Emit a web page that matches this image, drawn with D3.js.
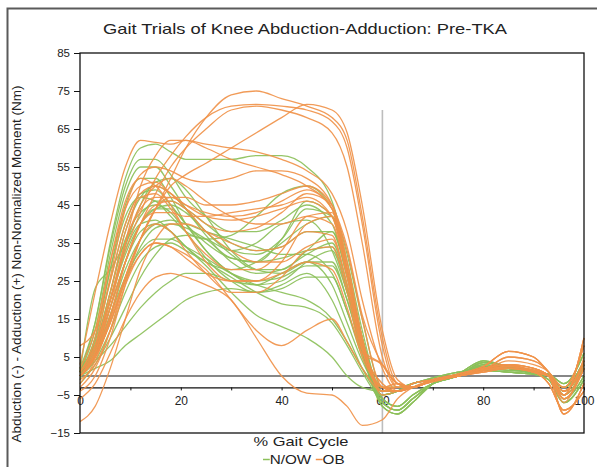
<!DOCTYPE html>
<html>
<head>
<meta charset="utf-8">
<script src="https://cdn.jsdelivr.net/npm/d3@7"></script>
<style>
  html, body { margin: 0; padding: 0; background: #fff; }
  svg { display: block; font-family: "Liberation Sans", Arial, sans-serif; }
</style>
</head>
<body>
<svg id="chart" width="597" height="467"></svg>
<script>
// Percent of gait cycle at which each trial is sampled
const pctGrid = [0,3,6,9,12,15,18,21,25,30,35,40,45,50,53,56,60,63,66,70,75,80,85,90,93,96,100];

const yTicks = [-15,-5,5,15,25,35,45,55,65,75,85];
const xTicks = [0,10,20,30,40,50,60,70,80,90,100];
const xLabelEvery = 20;

// Normal / overweight trials: knee ab-adduction moment (Nm)
const nowTrials = [
  [1,14,35,52,60,61,59,57,57,57,58,58,55,46,32,15,-3,-3,-2,-0.5,1,2,1.5,1,0.5,-2,6],
  [1,12,32,48,55,55,50,44,37,30,27,28,32,35,24,8,-7,-9,-6,-2,0,3.5,2.5,1,0,-5,2],
  [-1,10,28,45,52,52,47,40,33,27,24,25,30,33,22,7,-6,-8,-5,-2,0,3,2,0.5,-1,-7,-1],
  [0,8,22,38,47,50,48,44,38,32,28,28,33,38,27,10,-5,-4,-2,-1,0.5,2.5,2,1,0,-3,4],
  [2,8,20,32,40,44,45,43,38,33,32,36,44,42,28,10,-4,-4,-2,-1,0,1.5,1,0.5,0,-4,3],
  [1,23,28,35,42,46,46,44,40,35,33,34,38,38,26,9,-8,-10,-7,-2,0.5,4,2.5,1.5,0,-6,0],
  [0,5,14,25,34,39,40,39,36,31,30,36,46,42,28,10,-5,-4,-2,-1,0.5,2.5,2,1,0,-3,4],
  [-2,3,10,18,26,32,36,37,36,33,35,40,41,33,22,8,-7,-9,-6,-2,0,3.5,2.5,1,0,-5,2],
  [1,4,8,13,18,22,25,27,27,25,24,27,30,24,14,4,-4,-4,-2,-1,0,1.5,1,0.5,0,-4,3],
  [0,2,4,8,11,14,17,20,22,23,22,24,27,20,11,2,-6,-8,-5,-2,0,3,2,0.5,-1,-7,-1],
  [0,6,18,30,40,44,44,40,33,27,24,22,20,15,9,2,-3,-3,-2,-0.5,1,2,1.5,1,0.5,-2,6],
  [1,7,20,34,45,51,52,49,42,33,28,27,30,30,20,6,-8,-10,-7,-2,0.5,4,2.5,1.5,0,-6,0],
  [0,9,25,40,48,49,45,40,35,31,30,31,33,34,23,8,-5,-4,-2,-1,0.5,2.5,2,1,0,-3,4],
  [0,6,18,30,38,40,38,34,29,22,16,13,10,5,0,-3,-4,-4,-2,-1,0,1.5,1,0.5,0,-4,3],
  [0,4,12,22,30,34,35,33,30,26,22,19,18,14,8,1,-7,-9,-6,-2,0,3.5,2.5,1,0,-5,2],
  [1,10,28,42,47,46,42,38,36,37,42,48,50,44,28,10,-3,-3,-2,-0.5,1,2,1.5,1,0.5,-2,6],
  [0,7,20,33,40,41,38,34,30,28,30,35,40,42,30,12,-6,-8,-5,-2,0,3,2,0.5,-1,-7,-1],
  [0,5,16,28,36,40,41,40,38,36,34,32,32,27,17,5,-5,-4,-2,-1,0.5,2.5,2,1,0,-3,4],
  [1,8,22,36,43,45,43,38,31,25,22,23,26,26,17,6,-8,-10,-7,-2,0.5,4,2.5,1.5,0,-6,0],
  [0,6,16,26,33,36,36,34,31,27,25,26,29,29,20,7,-4,-4,-2,-1,0,1.5,1,0.5,0,-4,3],
  [2,14,34,50,57,57,53,47,42,38,38,41,45,40,26,9,-7,-9,-6,-2,0,3.5,2.5,1,0,-5,2]
];

// Obese trials: knee ab-adduction moment (Nm)
const obTrials = [
  [0,5,14,26,36,44,52,60,68,74,75,73,71,68,62,42,10,-2,-3,-1,0,2,3,1,0,-4,3],
  [1,8,20,33,43,52,58,63,68,71,71.5,71,70,67,60,40,8,-3,-3,-1,0,1.5,5,4,1,-6,2],
  [0,6,18,30,40,48,55,60,65,70,71,70,68,64,55,35,5,-3,-3,-1,0.5,2.5,6.5,5,1,-3,8],
  [0,5,15,26,36,44,50,53,56,60,64,68,71.5,70,64,45,12,-1,-3,-1,0,2,3,2,0,-10,-2],
  [3,22,40,55,62,61.5,61,62,61,60,59,57,54,48,38,20,2,-4,-3,-1.5,0,1,2,1,-2,-9,-4],
  [0,5,18,35,50,58,62,62,60,57,55,53,50,44,33,15,-3,-4,-2,-1,0,1.5,2.5,1.5,0,-5,10],
  [1,8,26,44,53,55,54,52,51,52,54,54,52,45,34,16,3,-2,-3,-1,0,2,3,1,0,-4,4],
  [0,6,20,35,44,47,47,45,43,42,43,46,49,44,28,8,-3,-3,-3,-1,0,1.5,4,3,1,-6,2],
  [-2,4,15,30,40,45,46,44,40,38,39,43,48,45,30,10,-4,-4,-3,-1,0.5,2.5,6.5,5,1,-3,8],
  [0,5,16,30,40,43,43,42,42,43,44,45,47,42,27,8,-2,-4,-3,-1.5,0,1,2,1,-2,-9,-4],
  [1,10,30,46,52,50,45,38,32,28,28,33,42,43,28,9,-3,-2,-3,-1,0,2,3,2,0,-10,-2],
  [0,7,22,38,47,48,44,38,30,25,25,30,40,42,27,8,-3,-4,-2,-1,0,1.5,2.5,1.5,0,-5,10],
  [-3,2,12,26,36,40,38,33,27,22,22,26,33,34,22,6,3,-2,-3,-1,0,2,3,1,0,-4,4],
  [-6,-2,6,15,22,26,27,26,24,20,10,0,-4.5,-5,-8,-13,-11.5,-6,-3,-1,0,1.5,2,1,0,-5,2],
  [0,5,14,25,32,35,34,32,28,20,12,8,12,15,9,2,-4,-3,-3,-1,0,1.5,5,4,1,-6,2],
  [-12,-8,2,15,28,36,40,40,38,35,33,34,38,37,24,7,-4,-4,-3,-1,0.5,2.5,6.5,5,1,-3,8],
  [2,12,30,44,50,51,48,45,42,41,42,44,46,42,27,8,-2,-4,-3,-1.5,0,1,2,1,-2,-9,-4],
  [0,6,20,35,45,50,52,50,46,42,40,40,42,40,26,7,-3,-2,-3,-1,0,2,3,2,0,-10,-2],
  [-1,3,12,24,32,35,34,31,27,25,25,27,30,28,18,5,-3,-4,-2,-1,0,1.5,2.5,1.5,0,-5,10],
  [8,12,25,40,48,50,48,44,38,33,30,30,34,36,24,7,3,-2,-3,-1,0,2,3,1,0,-4,4],
  [-4,0,10,24,36,44,47,47,45,45,46,48,50,45,30,10,-5,-4,-3,-1,0,2,3,2,0,-7,5]
];

const seriesNames = ["N/OW", "OB"];
const seriesColors = ["#8cc05a", "#f0924a"];

const svg = d3.select("#chart");
const W = 597, H = 467;
const plot = { left: 80, right: 584, top: 53, bottom: 433 };

const x = d3.scaleLinear().domain([0, 100]).range([plot.left, plot.right]);
const y = d3.scaleLinear().domain([-15, 85]).range([plot.bottom, plot.top]);

// outer chart frame
svg.append("rect")
  .attr("x", 7.5).attr("y", 8.5)
  .attr("width", W + 10).attr("height", H + 10)
  .attr("fill", "none").attr("stroke", "#5a5a5a").attr("stroke-width", 2);

// title (glyphs widened to the chart's aspect)
svg.append("text")
  .attr("x", 305).attr("y", 34)
  .attr("text-anchor", "middle")
  .attr("font-size", 15).attr("fill", "#222")
  .attr("textLength", 404).attr("lengthAdjust", "spacingAndGlyphs")
  .text("Gait Trials of Knee Abduction-Adduction: Pre-TKA");

// toe-off marker
svg.append("line")
  .attr("x1", x(60)).attr("x2", x(60))
  .attr("y1", y(70)).attr("y2", y(-15))
  .attr("stroke", "#bdbdbd").attr("stroke-width", 1.6);

// zero reference line
svg.append("line")
  .attr("x1", plot.left).attr("x2", plot.right)
  .attr("y1", y(0)).attr("y2", y(0))
  .attr("stroke", "#111").attr("stroke-width", 1.1);

// x axis crossing at -3
const xAxis = d3.axisBottom(x)
  .tickValues(xTicks)
  .tickSize(3)
  .tickSizeOuter(0)
  .tickPadding(6)
  .tickFormat(d => d % xLabelEvery === 0 ? d : "");
const gx = svg.append("g")
  .attr("transform", `translate(0,${y(-3)})`)
  .call(xAxis);
gx.select(".domain").attr("stroke", "#111").attr("stroke-width", 1.1);
gx.selectAll(".tick line").attr("stroke", "#111");
gx.selectAll("text").attr("font-size", 12).attr("fill", "#222")
  .attr("font-family", "Liberation Sans, Arial, sans-serif");

// trial curves
const line = d3.line()
  .x((d, i) => x(pctGrid[i]))
  .y(d => y(d))
  .curve(d3.curveMonotoneX);

const groups = [nowTrials, obTrials];
groups.forEach((trials, gi) => {
  svg.append("g")
    .selectAll("path")
    .data(trials)
    .join("path")
    .attr("d", line)
    .attr("fill", "none")
    .attr("stroke", seriesColors[gi])
    .attr("stroke-width", 1.3)
    .attr("stroke-opacity", 0.92);
});

// y axis
const yAxis = d3.axisLeft(y)
  .tickValues(yTicks)
  .tickSize(6)
  .tickSizeOuter(0)
  .tickPadding(4);
const gy = svg.append("g")
  .attr("transform", `translate(${plot.left},0)`)
  .call(yAxis);
gy.select(".domain").remove();
gy.selectAll(".tick line").attr("stroke", "#111");
gy.selectAll("text").attr("font-size", 11.5).attr("fill", "#222")
  .attr("font-family", "Liberation Sans, Arial, sans-serif");

// plot frame
svg.append("rect")
  .attr("x", plot.left).attr("y", plot.top)
  .attr("width", plot.right - plot.left).attr("height", plot.bottom - plot.top)
  .attr("fill", "none").attr("stroke", "#111").attr("stroke-width", 1.3);

// axis titles
svg.append("text")
  .attr("transform", `translate(21,264) rotate(-90)`)
  .attr("text-anchor", "middle")
  .attr("font-size", 13.5).attr("fill", "#222")
  .attr("textLength", 357).attr("lengthAdjust", "spacingAndGlyphs")
  .text("Abduction (-) - Adduction (+) Non-Normalized Moment (Nm)");

svg.append("text")
  .attr("x", 301).attr("y", 446)
  .attr("text-anchor", "middle")
  .attr("font-size", 13.5).attr("fill", "#222")
  .attr("textLength", 95).attr("lengthAdjust", "spacingAndGlyphs")
  .text("% Gait Cycle");

// legend
const legend = svg.append("g").attr("transform", "translate(263,464) scale(1.13,1)");
let lx = 0;
seriesNames.forEach((name, i) => {
  legend.append("line")
    .attr("x1", lx).attr("x2", lx + 6)
    .attr("y1", -4.5).attr("y2", -4.5)
    .attr("stroke", seriesColors[i]).attr("stroke-width", 1.5);
  const t = legend.append("text")
    .attr("x", lx + 6).attr("y", 0)
    .attr("font-size", 13.5).attr("fill", "#222")
    .text(name);
  lx += 6 + t.node().getComputedTextLength() + 4;
});
</script>
</body>
</html>
